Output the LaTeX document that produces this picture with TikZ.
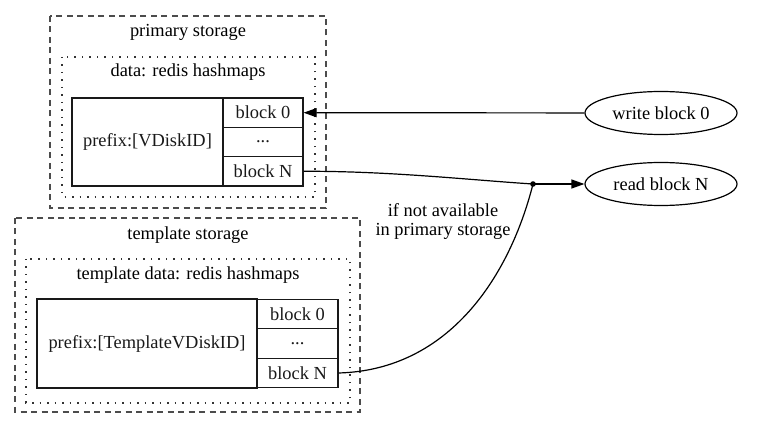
\documentclass[tikz,border=0pt]{standalone}
\usepackage{fontspec}
\setmainfont{Liberation Serif}
\usetikzlibrary{arrows.meta,shapes.geometric}

\begin{document}
\begin{tikzpicture}[x=1pt,y=-1pt,line width=1.2pt,font=\fontsize{18.4}{22}\selectfont]
\tikzstyle{every node}+=[inner sep=0pt]
\tikzstyle{cluster}=[draw=black!70,line width=1.3pt,dash pattern=on 6pt off 4.5pt]
\tikzstyle{subcluster}=[draw=black!80,line width=1.5pt,dash pattern=on 1.5pt off 6pt]
\tikzstyle{cell}=[draw,black!90,line width=1.2pt]
\tikzstyle{op}=[draw,black,line width=1.2pt,ellipse,minimum width=152,minimum height=43]
\tikzstyle{edge}=[black,line width=1.2pt]
\tikzstyle{head}=[-{Triangle[length=13pt,width=9pt]}]
\useasboundingbox (0,0) rectangle (763,427);
\draw [cluster] (50,16) rectangle (326,208);
\node (prim) at (188,32) {primary storage};
\draw [subcluster] (62,57) rectangle (315,197);
\node (data) at (188,72) {data: redis hashmaps};
\node [cell,minimum width=151,minimum height=88] (vdisk) at (147.5,142) {prefix:[VDiskID]};
\node [cell,minimum width=80,minimum height=29.3] (p0) at (263,112.7) {block 0};
\node [cell,minimum width=80,minimum height=29.3] (pdots) at (263,142) {...};
\node [cell,minimum width=80,minimum height=29.3] (pN) at (263,171.3) {block N};
\draw [cluster] (15,218) rectangle (360,412);
\node (tmpl) at (188,235) {template storage};
\draw [subcluster] (26,259) rectangle (350,403);
\node (tdata) at (188,275) {template data: redis hashmaps};
\node [cell,minimum width=220,minimum height=89] (tvdisk) at (147,343.5) {prefix:[TemplateVDiskID]};
\node [cell,minimum width=81,minimum height=29.7] (t0) at (297.5,314) {block 0};
\node [cell,minimum width=81,minimum height=29.7] (tdots) at (297.5,343.5) {...};
\node [cell,minimum width=81,minimum height=29.7] (tN) at (297.5,373) {block N};
\node [op] (write) at (661,113) {write block 0};
\node [op] (read) at (661,184) {read block N};
\fill [black] (533,184) circle (2.8) coordinate (join);
\draw [edge,head] (write) -- (p0.east);
\draw [edge] (pN.east) .. controls (390,171) and (470,180) .. (join);
\draw [edge] (tN.east) .. controls (450,370) and (510,275) .. (join);
\draw [edge,head] (join) -- (read);
\node [align=center] (cond) at (443,222) {if not available\\[-3pt]in primary storage};
\end{tikzpicture}
\end{document}
